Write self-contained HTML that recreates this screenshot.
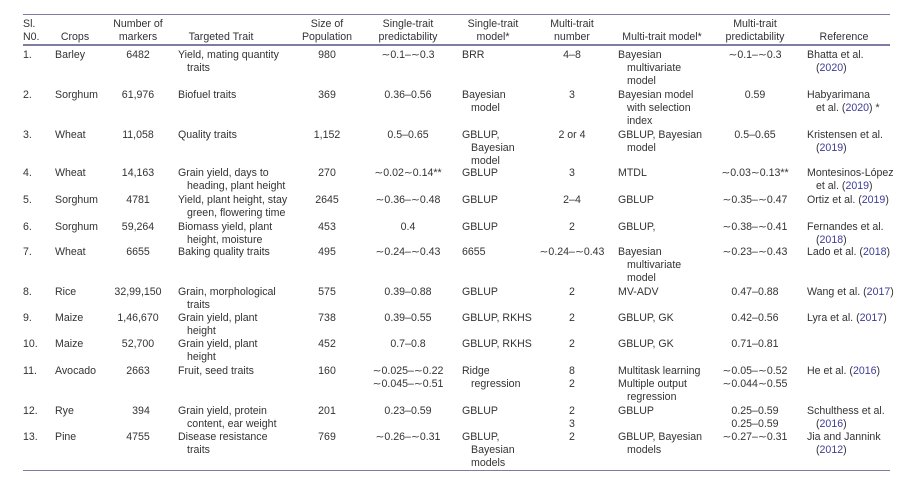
<!DOCTYPE html>
<html>
<head>
<meta charset="utf-8">
<style>
  html,body{margin:0;padding:0;background:#fff;}
  body{width:921px;height:499px;overflow:hidden;position:relative;
       font-family:"Liberation Sans",Arial,sans-serif;font-size:10.6px;color:#333;}
  .c{position:absolute;white-space:nowrap;line-height:13px;}
  .m{transform:translateX(-50%);text-align:center;}
  .i{padding-left:9px;}
  .rule{position:absolute;left:23px;width:867px;height:1.6px;background:#7d7da3;}
  .lk{color:#3c3c99;}
</style>
</head>
<body>
<div class="rule" style="top:13.5px"></div>
<div class="rule" style="top:44px"></div>
<div class="rule" style="top:469.5px"></div>

<!-- Header -->
<div class="c" style="left:23px;top:17.5px">Sl.<br>N0.</div>
<div class="c m" style="left:75px;top:30.5px">Crops</div>
<div class="c m" style="left:138px;top:17.5px">Number of<br>markers</div>
<div class="c m" style="left:221px;top:30.5px">Targeted Trait</div>
<div class="c m" style="left:327px;top:17.5px">Size of<br>Population</div>
<div class="c m" style="left:408px;top:17.5px">Single-trait<br>predictability</div>
<div class="c m" style="left:493px;top:17.5px">Single-trait<br>model*</div>
<div class="c m" style="left:572px;top:17.5px">Multi-trait<br>number</div>
<div class="c m" style="left:662px;top:30.5px">Multi-trait model*</div>
<div class="c m" style="left:755px;top:17.5px">Multi-trait<br>predictability</div>
<div class="c m" style="left:844px;top:30.5px">Reference</div>

<!-- Row 1 -->
<div class="c" style="left:23px;top:48.5px">1.</div>
<div class="c" style="left:55px;top:48.5px">Barley</div>
<div class="c m" style="left:138px;top:48.5px">6482</div>
<div class="c" style="left:178px;top:48.5px"><div>Yield, mating quantity</div><div class="i">traits</div></div>
<div class="c m" style="left:327px;top:48.5px">980</div>
<div class="c m" style="left:408px;top:48.5px">∼0.1–∼0.3</div>
<div class="c" style="left:462px;top:48.5px">BRR</div>
<div class="c m" style="left:572px;top:48.5px">4–8</div>
<div class="c" style="left:618px;top:48.5px"><div>Bayesian</div><div class="i">multivariate</div><div class="i">model</div></div>
<div class="c m" style="left:755px;top:48.5px">∼0.1–∼0.3</div>
<div class="c" style="left:807px;top:48.5px"><div>Bhatta et al.</div><div class="i">(<span class="lk">2020</span>)</div></div>

<!-- Row 2 -->
<div class="c" style="left:23px;top:88.5px">2.</div>
<div class="c" style="left:55px;top:88.5px">Sorghum</div>
<div class="c m" style="left:138px;top:88.5px">61,976</div>
<div class="c" style="left:178px;top:88.5px">Biofuel traits</div>
<div class="c m" style="left:327px;top:88.5px">369</div>
<div class="c m" style="left:408px;top:88.5px">0.36–0.56</div>
<div class="c" style="left:462px;top:88.5px"><div>Bayesian</div><div class="i">model</div></div>
<div class="c m" style="left:572px;top:88.5px">3</div>
<div class="c" style="left:618px;top:88.5px"><div>Bayesian model</div><div class="i">with selection</div><div class="i">index</div></div>
<div class="c m" style="left:755px;top:88.5px">0.59</div>
<div class="c" style="left:807px;top:88.5px"><div>Habyarimana</div><div class="i">et al. (<span class="lk">2020</span>) *</div></div>

<!-- Row 3 -->
<div class="c" style="left:23px;top:128.5px">3.</div>
<div class="c" style="left:55px;top:128.5px">Wheat</div>
<div class="c m" style="left:138px;top:128.5px">11,058</div>
<div class="c" style="left:178px;top:128.5px">Quality traits</div>
<div class="c m" style="left:327px;top:128.5px">1,152</div>
<div class="c m" style="left:408px;top:128.5px">0.5–0.65</div>
<div class="c" style="left:462px;top:128.5px"><div>GBLUP,</div><div class="i">Bayesian</div><div class="i">model</div></div>
<div class="c m" style="left:572px;top:128.5px">2 or 4</div>
<div class="c" style="left:618px;top:128.5px"><div>GBLUP, Bayesian</div><div class="i">model</div></div>
<div class="c m" style="left:755px;top:128.5px">0.5–0.65</div>
<div class="c" style="left:807px;top:128.5px"><div>Kristensen et al.</div><div class="i">(<span class="lk">2019</span>)</div></div>

<!-- Row 4 -->
<div class="c" style="left:23px;top:166.5px">4.</div>
<div class="c" style="left:55px;top:166.5px">Wheat</div>
<div class="c m" style="left:138px;top:166.5px">14,163</div>
<div class="c" style="left:178px;top:166.5px"><div>Grain yield, days to</div><div class="i">heading, plant height</div></div>
<div class="c m" style="left:327px;top:166.5px">270</div>
<div class="c m" style="left:408px;top:166.5px">∼0.02∼0.14**</div>
<div class="c" style="left:462px;top:166.5px">GBLUP</div>
<div class="c m" style="left:572px;top:166.5px">3</div>
<div class="c" style="left:618px;top:166.5px">MTDL</div>
<div class="c m" style="left:755px;top:166.5px">∼0.03∼0.13**</div>
<div class="c" style="left:807px;top:166.5px"><div>Montesinos-López</div><div class="i">et al. (<span class="lk">2019</span>)</div></div>

<!-- Row 5 -->
<div class="c" style="left:23px;top:193.5px">5.</div>
<div class="c" style="left:55px;top:193.5px">Sorghum</div>
<div class="c m" style="left:138px;top:193.5px">4781</div>
<div class="c" style="left:178px;top:193.5px"><div>Yield, plant height, stay</div><div class="i">green, flowering time</div></div>
<div class="c m" style="left:327px;top:193.5px">2645</div>
<div class="c m" style="left:408px;top:193.5px">∼0.36–∼0.48</div>
<div class="c" style="left:462px;top:193.5px">GBLUP</div>
<div class="c m" style="left:572px;top:193.5px">2–4</div>
<div class="c" style="left:618px;top:193.5px">GBLUP</div>
<div class="c m" style="left:755px;top:193.5px">∼0.35–∼0.47</div>
<div class="c" style="left:807px;top:193.5px">Ortiz et al. (<span class="lk">2019</span>)</div>

<!-- Row 6 -->
<div class="c" style="left:23px;top:220.5px">6.</div>
<div class="c" style="left:55px;top:220.5px">Sorghum</div>
<div class="c m" style="left:138px;top:220.5px">59,264</div>
<div class="c" style="left:178px;top:220.5px"><div>Biomass yield, plant</div><div class="i">height, moisture</div></div>
<div class="c m" style="left:327px;top:220.5px">453</div>
<div class="c m" style="left:408px;top:220.5px">0.4</div>
<div class="c" style="left:462px;top:220.5px">GBLUP</div>
<div class="c m" style="left:572px;top:220.5px">2</div>
<div class="c" style="left:618px;top:220.5px">GBLUP,</div>
<div class="c m" style="left:755px;top:220.5px">∼0.38–∼0.41</div>
<div class="c" style="left:807px;top:220.5px"><div>Fernandes et al.</div><div class="i">(<span class="lk">2018</span>)</div></div>

<!-- Row 7 -->
<div class="c" style="left:23px;top:245.5px">7.</div>
<div class="c" style="left:55px;top:245.5px">Wheat</div>
<div class="c m" style="left:138px;top:245.5px">6655</div>
<div class="c" style="left:178px;top:245.5px">Baking quality traits</div>
<div class="c m" style="left:327px;top:245.5px">495</div>
<div class="c m" style="left:408px;top:245.5px">∼0.24–∼0.43</div>
<div class="c" style="left:462px;top:245.5px">6655</div>
<div class="c m" style="left:572px;top:245.5px">∼0.24–∼0.43</div>
<div class="c" style="left:618px;top:245.5px"><div>Bayesian</div><div class="i">multivariate</div><div class="i">model</div></div>
<div class="c m" style="left:755px;top:245.5px">∼0.23–∼0.43</div>
<div class="c" style="left:807px;top:245.5px">Lado et al. (<span class="lk">2018</span>)</div>

<!-- Row 8 -->
<div class="c" style="left:23px;top:285.5px">8.</div>
<div class="c" style="left:55px;top:285.5px">Rice</div>
<div class="c m" style="left:138px;top:285.5px">32,99,150</div>
<div class="c" style="left:178px;top:285.5px"><div>Grain, morphological</div><div class="i">traits</div></div>
<div class="c m" style="left:327px;top:285.5px">575</div>
<div class="c m" style="left:408px;top:285.5px">0.39–0.88</div>
<div class="c" style="left:462px;top:285.5px">GBLUP</div>
<div class="c m" style="left:572px;top:285.5px">2</div>
<div class="c" style="left:618px;top:285.5px">MV-ADV</div>
<div class="c m" style="left:755px;top:285.5px">0.47–0.88</div>
<div class="c" style="left:807px;top:285.5px">Wang et al. (<span class="lk">2017</span>)</div>

<!-- Row 9 -->
<div class="c" style="left:23px;top:311.5px">9.</div>
<div class="c" style="left:55px;top:311.5px">Maize</div>
<div class="c m" style="left:138px;top:311.5px">1,46,670</div>
<div class="c" style="left:178px;top:311.5px"><div>Grain yield, plant</div><div class="i">height</div></div>
<div class="c m" style="left:327px;top:311.5px">738</div>
<div class="c m" style="left:408px;top:311.5px">0.39–0.55</div>
<div class="c" style="left:462px;top:311.5px">GBLUP, RKHS</div>
<div class="c m" style="left:572px;top:311.5px">2</div>
<div class="c" style="left:618px;top:311.5px">GBLUP, GK</div>
<div class="c m" style="left:755px;top:311.5px">0.42–0.56</div>
<div class="c" style="left:807px;top:311.5px">Lyra et al. (<span class="lk">2017</span>)</div>

<!-- Row 10 -->
<div class="c" style="left:23px;top:337.5px">10.</div>
<div class="c" style="left:55px;top:337.5px">Maize</div>
<div class="c m" style="left:138px;top:337.5px">52,700</div>
<div class="c" style="left:178px;top:337.5px"><div>Grain yield, plant</div><div class="i">height</div></div>
<div class="c m" style="left:327px;top:337.5px">452</div>
<div class="c m" style="left:408px;top:337.5px">0.7–0.8</div>
<div class="c" style="left:462px;top:337.5px">GBLUP, RKHS</div>
<div class="c m" style="left:572px;top:337.5px">2</div>
<div class="c" style="left:618px;top:337.5px">GBLUP, GK</div>
<div class="c m" style="left:755px;top:337.5px">0.71–0.81</div>

<!-- Row 11 -->
<div class="c" style="left:23px;top:364.5px">11.</div>
<div class="c" style="left:55px;top:364.5px">Avocado</div>
<div class="c m" style="left:138px;top:364.5px">2663</div>
<div class="c" style="left:178px;top:364.5px">Fruit, seed traits</div>
<div class="c m" style="left:327px;top:364.5px">160</div>
<div class="c m" style="left:408px;top:364.5px">∼0.025–∼0.22<br>∼0.045–∼0.51</div>
<div class="c" style="left:462px;top:364.5px"><div>Ridge</div><div class="i">regression</div></div>
<div class="c m" style="left:572px;top:364.5px">8<br>2</div>
<div class="c" style="left:618px;top:364.5px"><div>Multitask learning</div><div>Multiple output</div><div class="i">regression</div></div>
<div class="c m" style="left:755px;top:364.5px">∼0.05–∼0.52<br>∼0.044∼0.55</div>
<div class="c" style="left:807px;top:364.5px">He et al. (<span class="lk">2016</span>)</div>

<!-- Row 12 -->
<div class="c" style="left:23px;top:404.5px">12.</div>
<div class="c" style="left:55px;top:404.5px">Rye</div>
<div class="c m" style="left:141px;top:404.5px">394</div>
<div class="c" style="left:178px;top:404.5px"><div>Grain yield, protein</div><div class="i">content, ear weight</div></div>
<div class="c m" style="left:327px;top:404.5px">201</div>
<div class="c m" style="left:408px;top:404.5px">0.23–0.59</div>
<div class="c" style="left:462px;top:404.5px">GBLUP</div>
<div class="c m" style="left:572px;top:404.5px">2<br>3</div>
<div class="c" style="left:618px;top:404.5px">GBLUP</div>
<div class="c m" style="left:755px;top:404.5px">0.25–0.59<br>0.25–0.59</div>
<div class="c" style="left:807px;top:404.5px"><div>Schulthess et al.</div><div class="i">(<span class="lk">2016</span>)</div></div>

<!-- Row 13 -->
<div class="c" style="left:23px;top:430.5px">13.</div>
<div class="c" style="left:55px;top:430.5px">Pine</div>
<div class="c m" style="left:138px;top:430.5px">4755</div>
<div class="c" style="left:178px;top:430.5px"><div>Disease resistance</div><div class="i">traits</div></div>
<div class="c m" style="left:327px;top:430.5px">769</div>
<div class="c m" style="left:408px;top:430.5px">∼0.26–∼0.31</div>
<div class="c" style="left:462px;top:430.5px"><div>GBLUP,</div><div class="i">Bayesian</div><div class="i">models</div></div>
<div class="c m" style="left:572px;top:430.5px">2</div>
<div class="c" style="left:618px;top:430.5px"><div>GBLUP, Bayesian</div><div class="i">models</div></div>
<div class="c m" style="left:755px;top:430.5px">∼0.27–∼0.31</div>
<div class="c" style="left:807px;top:430.5px"><div>Jia and Jannink</div><div class="i">(<span class="lk">2012</span>)</div></div>
</body>
</html>
